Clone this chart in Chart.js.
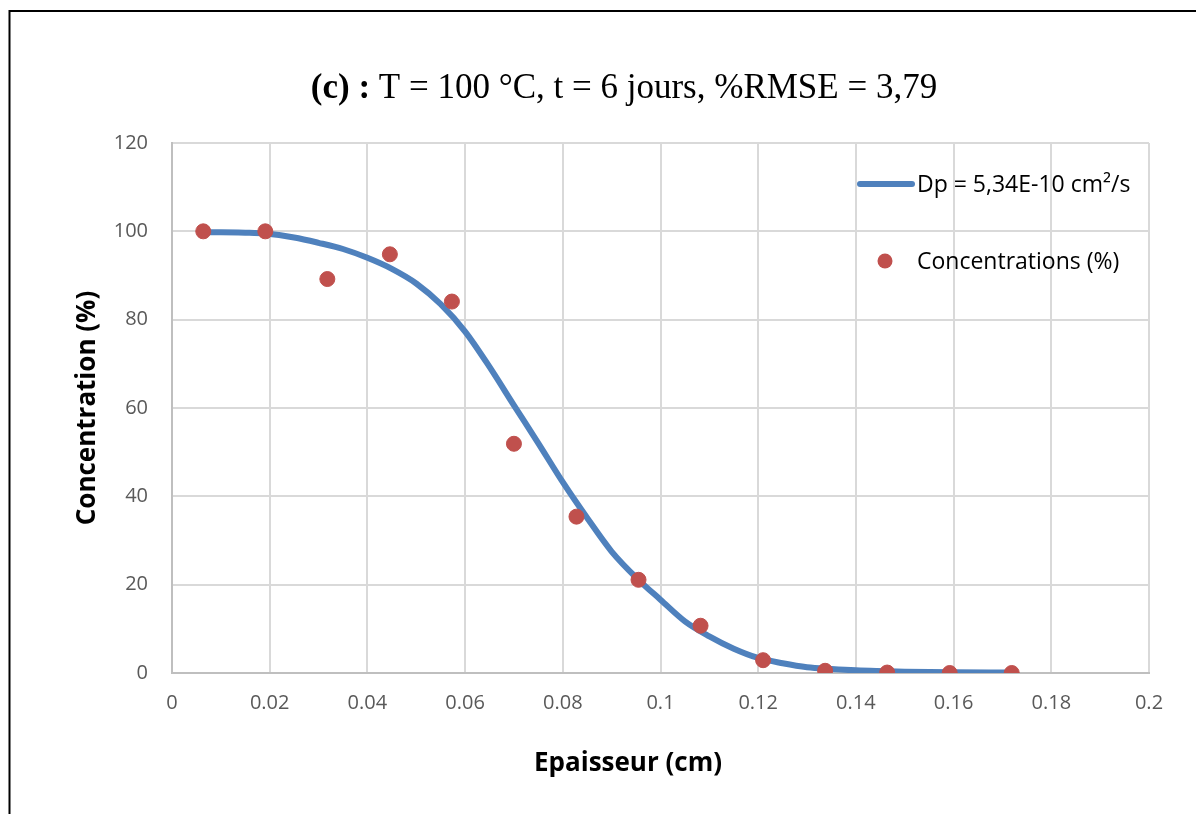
<!DOCTYPE html>
<html>
<head>
<meta charset="utf-8">
<script src="https://cdn.jsdelivr.net/npm/chart.js@4/dist/chart.umd.min.js"></script>
<style>
  html, body { margin: 0; padding: 0; background: #fff; }
  #wrap { width: 1196px; height: 814px; }
</style>
</head>
<body>
<div id="wrap"><canvas id="c" width="1196" height="814"></canvas></div>
<script>
// Measured profile: thickness (cm) and concentration (%)
const epaisseur = [0.0064, 0.0191, 0.0318, 0.0446, 0.0573, 0.0700, 0.0828,
                   0.0955, 0.1082, 0.1210, 0.1337, 0.1464, 0.1592, 0.1719];
const concentrations = [100.0, 100.0, 89.2, 94.8, 84.1, 51.9, 35.4,
                        21.1, 10.7, 2.9, 0.5, 0.1, 0.0, 0.0];

// Fitted diffusion profile (Dp = 5,34E-10 cm²/s)
const fitX = [0.0064, 0.010, 0.015, 0.0191, 0.025, 0.030, 0.035, 0.040, 0.045,
              0.050, 0.055, 0.060, 0.065, 0.070, 0.075, 0.080, 0.085, 0.090,
              0.0955, 0.100, 0.105, 0.110, 0.115, 0.120, 0.125, 0.130, 0.135,
              0.140, 0.150, 0.160, 0.1719];
const fitY = [99.8, 99.8, 99.7, 99.5, 98.6, 97.4, 96.0, 94.0, 91.5,
              88.2, 83.5, 77.3, 69.3, 60.6, 52.0, 43.2, 35.1, 27.5,
              21.1, 16.6, 11.7, 8.3, 5.5, 3.4, 2.2, 1.3, 0.9,
              0.6, 0.3, 0.15, 0.1];

// Axis ticks
const xTickValues = [0, 0.02, 0.04, 0.06, 0.08, 0.1, 0.12, 0.14, 0.16, 0.18, 0.2];
const xTickLabels = ['0', '0.02', '0.04', '0.06', '0.08', '0.1', '0.12', '0.14', '0.16', '0.18', '0.2'];
const yTickValues = [0, 20, 40, 60, 80, 100, 120];
const yTickLabels = ['0', '20', '40', '60', '80', '100', '120'];

// Texts
const titleBold = '(c) :';
const titleRest = ' T = 100 °C, t = 6 jours, %RMSE = 3,79';
const fitLabel = 'Dp = 5,34E-10 cm²/s';
const pointLabel = 'Concentrations (%)';
const xTitle = 'Epaisseur (cm)';
const yTitle = 'Concentration (%)';

const BLUE = '#4f81bd';
const RED = '#c0504d';
const GRID = '#d9d9d9';
const TICK = '#595959';
const SANS = '"Open Sans", "DejaVu Sans", sans-serif';
const SERIF = '"Liberation Serif", "Times New Roman", serif';

// White page with the black frame around the figure
const framePlugin = {
  id: 'frame',
  beforeDraw(chart) {
    const ctx = chart.ctx;
    ctx.save();
    ctx.fillStyle = '#fff';
    ctx.fillRect(0, 0, chart.width, chart.height);
    ctx.strokeStyle = '#000';
    ctx.lineWidth = 2;
    ctx.strokeRect(9.5, 11, 3000, 3000);
    ctx.restore();
  }
};

// Title with a bold prefix and a regular remainder, plus the x-axis title
// centred under the whole figure
const textPlugin = {
  id: 'texts',
  afterDraw(chart) {
    const ctx = chart.ctx;
    ctx.save();
    ctx.textBaseline = 'alphabetic';
    ctx.fillStyle = '#000';
    const boldFont = 'bold 35px ' + SERIF;
    const regFont = '35px ' + SERIF;
    ctx.font = boldFont;
    const wb = ctx.measureText(titleBold).width;
    ctx.font = regFont;
    const wr = ctx.measureText(titleRest).width;
    const x0 = 624 - (wb + wr) / 2;
    ctx.textAlign = 'left';
    ctx.font = boldFont;
    ctx.fillText(titleBold, x0, 98);
    ctx.font = regFont;
    ctx.fillText(titleRest, x0 + wb, 98);

    ctx.font = 'bold 26px ' + SANS;
    ctx.textAlign = 'center';
    ctx.textBaseline = 'middle';
    ctx.fillText(xTitle, 628, 764);
    ctx.restore();
  }
};

// Legend drawn inside the plot area, top right
const legendPlugin = {
  id: 'insideLegend',
  afterDraw(chart) {
    const ctx = chart.ctx;
    const line = chart.data.datasets[1];
    const pts = chart.data.datasets[0];
    ctx.save();
    ctx.font = '23px ' + SANS;
    ctx.textBaseline = 'middle';
    ctx.textAlign = 'left';
    ctx.strokeStyle = line.borderColor;
    ctx.lineWidth = line.borderWidth;
    ctx.lineCap = 'round';
    ctx.beginPath();
    ctx.moveTo(860, 184);
    ctx.lineTo(912, 184);
    ctx.stroke();
    ctx.fillStyle = '#000';
    ctx.fillText(line.label, 917, 185);
    ctx.fillStyle = pts.backgroundColor;
    ctx.beginPath();
    ctx.arc(885, 261, pts.pointRadius, 0, Math.PI * 2);
    ctx.fill();
    ctx.fillStyle = '#000';
    ctx.fillText(pts.label, 917, 262);
    ctx.restore();
  }
};

new Chart(document.getElementById('c'), {
  type: 'scatter',
  data: {
    datasets: [
      {
        label: pointLabel,
        data: epaisseur.map((x, i) => ({ x, y: concentrations[i] })),
        backgroundColor: RED,
        borderColor: RED,
        pointRadius: 7.5,
        pointHoverRadius: 7.5,
        showLine: false,
        order: 0
      },
      {
        label: fitLabel,
        data: fitX.map((x, i) => ({ x, y: fitY[i] })),
        borderColor: BLUE,
        backgroundColor: BLUE,
        borderWidth: 6,
        pointRadius: 0,
        showLine: true,
        cubicInterpolationMode: 'monotone',
        borderCapStyle: 'round',
        order: 1
      }
    ]
  },
  options: {
    responsive: false,
    animation: false,
    devicePixelRatio: 1,
    layout: { padding: { left: 0, right: 47, top: 143, bottom: 0 } },
    plugins: {
      legend: { display: false },
      title: { display: false },
      tooltip: { enabled: false }
    },
    scales: {
      x: {
        type: 'linear',
        min: 0,
        max: 0.2,
        afterBuildTicks(scale) { scale.ticks = xTickValues.map(v => ({ value: v })); },
        afterFit(scale) { scale.height = 141; },
        ticks: {
          color: TICK,
          font: { family: SANS, size: 20 },
          padding: 18,
          maxRotation: 0,
          autoSkip: false,
          callback: (v) => xTickLabels[xTickValues.indexOf(v)]
        },
        grid: { color: GRID, lineWidth: 2, drawTicks: false, tickLength: 0 },
        border: { color: '#bfbfbf', width: 2 },
        title: { display: false }
      },
      y: {
        type: 'linear',
        min: 0,
        max: 120,
        afterBuildTicks(scale) { scale.ticks = yTickValues.map(v => ({ value: v })); },
        afterFit(scale) { scale.width = 172; },
        ticks: {
          color: TICK,
          font: { family: SANS, size: 20 },
          padding: 24,
          callback: (v) => yTickLabels[yTickValues.indexOf(v)]
        },
        grid: { color: GRID, lineWidth: 2, drawTicks: false, tickLength: 0 },
        border: { color: '#bfbfbf', width: 2 },
        title: {
          display: true,
          text: yTitle,
          color: '#000',
          font: { family: SANS, size: 26, weight: 'bold' },
          padding: { top: 72, bottom: 0 }
        }
      }
    }
  },
  plugins: [framePlugin, textPlugin, legendPlugin]
});
</script>
</body>
</html>
